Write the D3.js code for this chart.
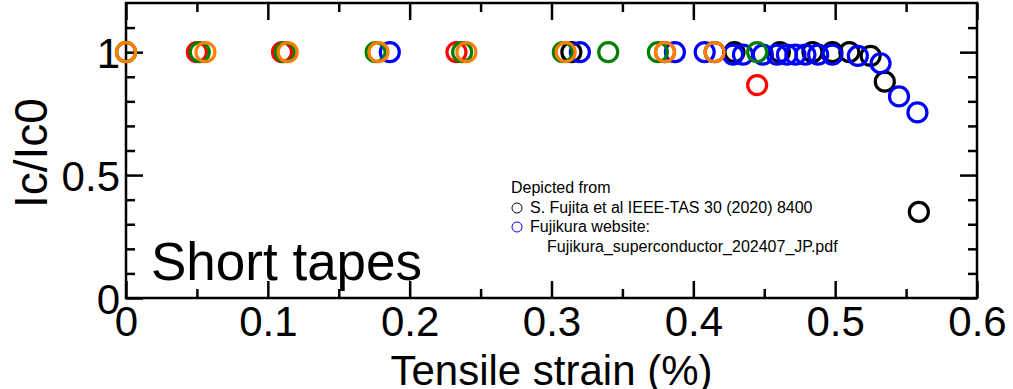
<!DOCTYPE html>
<html>
<head>
<meta charset="utf-8">
<script src="https://cdn.jsdelivr.net/npm/d3@7"></script>
<style>
  html, body { margin: 0; padding: 0; background: #fff; }
  svg { display: block; font-family: "Liberation Sans", Arial, sans-serif; }
</style>
</head>
<body>
<svg id="chart" width="1013" height="389"></svg>
<script>
// Normalised critical current vs tensile strain for short tapes
const strainBlack = [0.314, 0.415, 0.429, 0.461, 0.484, 0.498, 0.510, 0.525, 0.535, 0.559];
const icBlack     = [1, 1, 1, 1, 1, 1, 1, 0.985, 0.88, 0.35];

const strainBlue = [0.186, 0.320, 0.387, 0.408, 0.428, 0.435, 0.449, 0.459, 0.466, 0.472, 0.479, 0.488, 0.498, 0.516, 0.532, 0.545, 0.558];
const icBlue     = [1, 1, 1, 1, 0.99, 0.99, 0.99, 0.99, 0.99, 0.99, 0.99, 0.99, 0.99, 0.985, 0.955, 0.82, 0.755];

const strainRed = [0, 0.050, 0.110, 0.233, 0.380, 0.445];
const icRed     = [1, 1, 1, 1, 1, 0.866];

const strainGreen = [0, 0.052, 0.112, 0.176, 0.237, 0.308, 0.340, 0.375, 0.445];
const icGreen     = [1, 1, 1, 1, 1, 1, 1, 1, 1];

const strainOrange = [0, 0.056, 0.114, 0.178, 0.240, 0.310, 0.380, 0.415];
const icOrange     = [1, 1, 1, 1, 1, 1, 1, 1];

const xMajorTicks = [0, 0.1, 0.2, 0.3, 0.4, 0.5, 0.6];
const xMinorTicks = [0.05, 0.15, 0.25, 0.35, 0.45, 0.55];
const yMajorTicks = [0, 0.5, 1];
const yMinorTicks = [0.1, 0.2, 0.3, 0.4, 0.6, 0.7, 0.8, 0.9, 1.1];

const legendLines = [
  "Depicted from",
  "S. Fujita et al IEEE-TAS 30 (2020) 8400",
  "Fujikura website:",
  "Fujikura_superconductor_202407_JP.pdf"
];

const svg = d3.select("#chart");
const plotLeft = 126, plotRight = 977, plotTop = 3, plotBottom = 298;

const x = d3.scaleLinear().domain([0, 0.6]).range([plotLeft, plotRight]);
const y = d3.scaleLinear().domain([0, 1.2]).range([plotBottom, plotTop]);

const majorLen = 17, minorLen = 9;
const tickFont = 42;

// Inward ticks on all four sides
function tickGroup(axis, tx, ty) {
  const g = svg.append("g").attr("transform", `translate(${tx},${ty})`).call(axis);
  g.select(".domain").remove();
  g.selectAll(".tick line").attr("stroke", "#000").attr("stroke-width", 2.5);
  return g;
}

// bottom
const gxb = tickGroup(d3.axisBottom(x).tickValues(xMajorTicks).tickSizeInner(-majorLen).tickSizeOuter(0).tickPadding(6).tickFormat(d3.format("")), 0, plotBottom);
gxb.selectAll(".tick text").attr("font-size", tickFont).attr("fill", "#000").attr("dy", "0.76em");
tickGroup(d3.axisBottom(x).tickValues(xMinorTicks).tickSizeInner(-minorLen).tickSizeOuter(0).tickFormat(""), 0, plotBottom);
// top
tickGroup(d3.axisTop(x).tickValues(xMajorTicks).tickSizeInner(-majorLen).tickSizeOuter(0).tickFormat(""), 0, plotTop);
tickGroup(d3.axisTop(x).tickValues(xMinorTicks).tickSizeInner(-minorLen).tickSizeOuter(0).tickFormat(""), 0, plotTop);
// left
const gyl = tickGroup(d3.axisLeft(y).tickValues(yMajorTicks).tickSizeInner(-majorLen).tickSizeOuter(0).tickPadding(6).tickFormat(d3.format("")), plotLeft, 0);
gyl.selectAll(".tick text").attr("font-size", tickFont).attr("fill", "#000").attr("dy", "0.36em");
tickGroup(d3.axisLeft(y).tickValues(yMinorTicks).tickSizeInner(-minorLen).tickSizeOuter(0).tickFormat(""), plotLeft, 0);
// right
tickGroup(d3.axisRight(y).tickValues(yMajorTicks).tickSizeInner(-majorLen).tickSizeOuter(0).tickFormat(""), plotRight, 0);
tickGroup(d3.axisRight(y).tickValues(yMinorTicks).tickSizeInner(-minorLen).tickSizeOuter(0).tickFormat(""), plotRight, 0);

// frame
svg.append("rect")
  .attr("x", plotLeft).attr("y", plotTop)
  .attr("width", plotRight - plotLeft).attr("height", plotBottom - plotTop)
  .attr("fill", "none").attr("stroke", "#000").attr("stroke-width", 2.5);

// axis titles
svg.append("text")
  .attr("x", (plotLeft + plotRight) / 2).attr("y", 385)
  .attr("text-anchor", "middle").attr("font-size", 42)
  .text("Tensile strain (%)");

svg.append("text")
  .attr("transform", "translate(47,153) rotate(-90)")
  .attr("text-anchor", "middle").attr("font-size", 46)
  .text("Ic/Ic0");

svg.append("text")
  .attr("x", 151).attr("y", 280)
  .attr("font-size", 53)
  .text("Short tapes");

// data markers (drawing order sets overlap)
const series = [
  { xs: strainBlack, ys: icBlack, color: "#000000" },
  { xs: strainBlue, ys: icBlue, color: "#0000ff" },
  { xs: strainRed, ys: icRed, color: "#ff0000" },
  { xs: strainGreen, ys: icGreen, color: "#008000" },
  { xs: strainOrange, ys: icOrange, color: "#ff8000" }
];

series.forEach(s => {
  svg.append("g").selectAll("circle")
    .data(s.xs.map((v, i) => [v, s.ys[i]]))
    .join("circle")
    .attr("cx", d => x(d[0]))
    .attr("cy", d => y(d[1]))
    .attr("r", 9.5)
    .attr("fill", "none")
    .attr("stroke", s.color)
    .attr("stroke-width", 3.2);
});

// source notes
const lg = svg.append("g").attr("font-size", 16).attr("fill", "#000");
lg.append("text").attr("x", 511).attr("y", 193).text(legendLines[0]);
lg.append("circle").attr("cx", 517).attr("cy", 208).attr("r", 5).attr("fill", "none").attr("stroke", "#000").attr("stroke-width", 1);
lg.append("text").attr("x", 530).attr("y", 213).text(legendLines[1]);
lg.append("circle").attr("cx", 517).attr("cy", 227).attr("r", 5).attr("fill", "none").attr("stroke", "#0000ff").attr("stroke-width", 1);
lg.append("text").attr("x", 530).attr("y", 232).text(legendLines[2]);
lg.append("text").attr("x", 547).attr("y", 252).text(legendLines[3]);
</script>
</body>
</html>
